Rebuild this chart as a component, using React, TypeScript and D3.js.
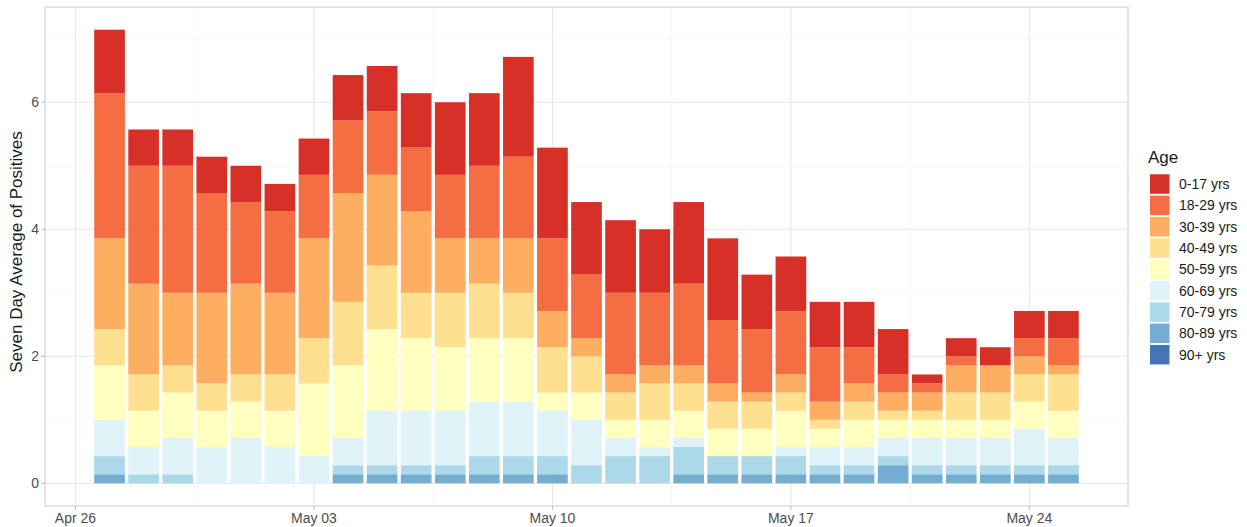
import React from 'react';
import * as d3 from 'd3';

// one bar per day
const dates = [
  '2020-04-27', '2020-04-28', '2020-04-29', '2020-04-30', '2020-05-01', '2020-05-02', '2020-05-03',
  '2020-05-04', '2020-05-05', '2020-05-06', '2020-05-07', '2020-05-08', '2020-05-09', '2020-05-10',
  '2020-05-11', '2020-05-12', '2020-05-13', '2020-05-14', '2020-05-15', '2020-05-16', '2020-05-17',
  '2020-05-18', '2020-05-19', '2020-05-20', '2020-05-21', '2020-05-22', '2020-05-23', '2020-05-24',
  '2020-05-25',
];

const ageGroups = ['0-17 yrs', '18-29 yrs', '30-39 yrs', '40-49 yrs', '50-59 yrs', '60-69 yrs', '70-79 yrs', '80-89 yrs', '90+ yrs'];
const ageColors = ['#d73027', '#f46d43', '#fdae61', '#fee090', '#ffffbf', '#e0f3f8', '#abd9e9', '#74add1', '#4575b4'];

// positives over the trailing seven days (plotted as the seven day average, i.e. / 7)
const age0to17 = [7, 4, 4, 4, 4, 3, 4, 5, 5, 6, 8, 8, 11, 10, 8, 8, 7, 9, 9, 6, 6, 5, 5, 5, 1, 2, 2, 3, 3];
const age18to29 = [16, 13, 14, 11, 9, 9, 7, 8, 7, 7, 7, 8, 9, 8, 7, 9, 8, 9, 7, 7, 7, 6, 4, 2, 1, 1, 0, 2, 3];
const age30to39 = [10, 10, 8, 10, 10, 9, 11, 12, 10, 9, 6, 5, 6, 4, 2, 2, 2, 2, 2, 1, 2, 2, 2, 2, 2, 3, 3, 2, 1];
const age40to49 = [4, 4, 3, 3, 3, 4, 5, 7, 7, 5, 6, 6, 5, 5, 4, 3, 4, 3, 3, 3, 2, 1, 2, 1, 1, 3, 3, 3, 4];
const age50to59 = [6, 4, 5, 4, 4, 4, 8, 8, 9, 8, 7, 7, 7, 2, 3, 2, 3, 3, 3, 3, 4, 2, 3, 2, 2, 2, 2, 3, 3];
const age60to69 = [4, 3, 4, 4, 5, 4, 3, 3, 6, 6, 6, 6, 6, 5, 5, 2, 1, 1, 0, 0, 1, 2, 2, 2, 3, 3, 3, 4, 3];
const age70to79 = [2, 1, 1, 0, 0, 0, 0, 1, 1, 1, 1, 2, 2, 2, 2, 3, 3, 3, 2, 2, 2, 1, 1, 1, 1, 1, 1, 1, 1];
const age80to89 = [1, 0, 0, 0, 0, 0, 0, 1, 1, 1, 1, 1, 1, 1, 0, 0, 0, 1, 1, 1, 1, 1, 1, 2, 1, 1, 1, 1, 1];
const age90plus = [0, 0, 0, 0, 0, 0, 0, 0, 0, 0, 0, 0, 0, 0, 0, 0, 0, 0, 0, 0, 0, 0, 0, 0, 0, 0, 0, 0, 0];

const seriesValues = [age0to17, age18to29, age30to39, age40to49, age50to59, age60to69, age70to79, age80to89, age90plus];

const xTickDates = ['2020-04-26', '2020-05-03', '2020-05-10', '2020-05-17', '2020-05-24'];
const xMinorDates = ['2020-04-29T12:00:00Z', '2020-05-06T12:00:00Z', '2020-05-13T12:00:00Z', '2020-05-20T12:00:00Z'];
const yTicks = [0, 2, 4, 6];
const yMinor = [1, 3, 5, 7];

const W = 1247;
const H = 527;
const panel = { left: 45, right: 1128, top: 7, bottom: 506 };
const FONT = '"Liberation Sans", Arial, Helvetica, sans-serif';
const DAY = 864e5;

const App = () => {
  const rows = dates.map((d, i) => {
    const row: any = { date: new Date(d + 'T00:00:00Z') };
    ageGroups.forEach((g, j) => { row[g] = seriesValues[j][i] / 7; });
    return row;
  });

  // stack from the oldest group at the bottom up to 0-17 on top
  const stack = d3.stack().keys([...ageGroups].reverse());
  const layers = stack(rows);

  const first = rows[0].date.getTime() - 0.45 * DAY;
  const last = rows[rows.length - 1].date.getTime() + 0.45 * DAY;
  const xPad = (last - first) * 0.05;
  const x = d3.scaleUtc()
    .domain([new Date(first - xPad), new Date(last + xPad)])
    .range([panel.left, panel.right]);

  const maxTotal = d3.max(layers[layers.length - 1], d => d[1]) as number;
  const y = d3.scaleLinear()
    .domain([-maxTotal * 0.05, maxTotal * 1.05])
    .range([panel.bottom, panel.top]);

  const barW = x(new Date(first + 0.9 * DAY)) - x(new Date(first));
  const fmt = d3.utcFormat('%b %d');
  const color = d3.scaleOrdinal<string, string>().domain(ageGroups).range(ageColors);

  return (
    <svg width={W} height={H} style={{ position: 'absolute', left: 0, top: 0, background: '#fff', fontFamily: FONT }}>
      {/* grid */}
      {yMinor.map(v => (
        <line key={'ym' + v} x1={panel.left} x2={panel.right} y1={y(v)} y2={y(v)} stroke="#f2f2f2" strokeWidth={0.6} />
      ))}
      {xMinorDates.map(d => (
        <line key={'xm' + d} x1={x(new Date(d))} x2={x(new Date(d))} y1={panel.top} y2={panel.bottom} stroke="#f2f2f2" strokeWidth={0.6} />
      ))}
      {yTicks.map(v => (
        <line key={'y' + v} x1={panel.left} x2={panel.right} y1={y(v)} y2={y(v)} stroke="#e6e6e6" strokeWidth={1} />
      ))}
      {xTickDates.map(d => {
        const xx = x(new Date(d + 'T00:00:00Z'));
        return <line key={'x' + d} x1={xx} x2={xx} y1={panel.top} y2={panel.bottom} stroke="#e6e6e6" strokeWidth={1} />;
      })}

      {/* bars */}
      {layers.map(layer => (
        <g key={layer.key} fill={color(layer.key)}>
          {layer.filter(d => d[1] > d[0]).map((d, i) => (
            <rect
              key={i}
              x={x(d.data.date) - barW / 2}
              y={y(d[1])}
              width={barW}
              height={y(d[0]) - y(d[1])}
            />
          ))}
        </g>
      ))}

      <rect x={panel.left} y={panel.top} width={panel.right - panel.left} height={panel.bottom - panel.top}
        fill="none" stroke="#d4d4d4" strokeWidth={1.2} />

      {/* y axis */}
      {yTicks.map(v => (
        <g key={'yt' + v}>
          <line x1={panel.left - 3.5} x2={panel.left} y1={y(v)} y2={y(v)} stroke="#b3b3b3" />
          <text x={panel.left - 6} y={y(v)} dy="0.35em" textAnchor="end" fontSize={14} fill="#4d4d4d">{v}</text>
        </g>
      ))}
      <text transform={`translate(22,252) rotate(-90)`} textAnchor="middle" fontSize={17} fill="#1a1a1a">
        Seven Day Average of Positives
      </text>

      {/* x axis */}
      {xTickDates.map(d => {
        const dt = new Date(d + 'T00:00:00Z');
        const xx = x(dt);
        return (
          <g key={'xt' + d}>
            <line x1={xx} x2={xx} y1={panel.bottom} y2={panel.bottom + 3.5} stroke="#b3b3b3" />
            <text x={xx} y={523} textAnchor="middle" fontSize={14} fill="#4d4d4d">{fmt(dt)}</text>
          </g>
        );
      })}

      {/* legend */}
      <text x={1148} y={163} fontSize={17} fill="#1a1a1a">Age</text>
      {ageGroups.map((g, i) => (
        <g key={'lg' + g} transform={`translate(1150,${174.3 + i * 21.33})`}>
          <rect width={19.5} height={19.5} fill={color(g)} />
          <text x={29} y={9.75} dy="0.35em" fontSize={14} fill="#1a1a1a">{g}</text>
        </g>
      ))}
    </svg>
  );
};

export default App;
